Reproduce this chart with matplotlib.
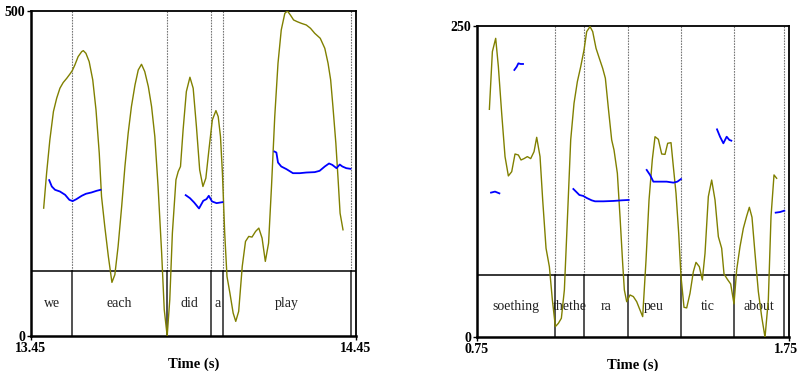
import numpy as np
import matplotlib.pyplot as plt
import matplotlib.transforms as mtransforms

plt.rcParams["font.family"] = ["Liberation Serif", "DejaVu Serif"]

# ---- left panel: "we each did a play" (13.45 - 14.45 s, 0 - 500) ----
left_int_t = [13.489, 13.498, 13.508, 13.519, 13.529, 13.539, 13.549, 13.560, 13.570, 13.577,
              13.585, 13.595, 13.606, 13.611, 13.619, 13.629, 13.640, 13.650, 13.660, 13.667,
              13.677, 13.688, 13.699, 13.708, 13.718, 13.729, 13.739, 13.749, 13.759, 13.770,
              13.780, 13.790, 13.800, 13.811, 13.821, 13.831, 13.841, 13.852, 13.860, 13.869,
              13.877, 13.885, 13.896, 13.903, 13.910, 13.918, 13.928, 13.939, 13.949, 13.959,
              13.969, 13.979, 13.988, 13.998, 14.008, 14.019, 14.026, 14.033, 14.039, 14.046,
              14.053, 14.062, 14.072, 14.080, 14.089, 14.100, 14.110, 14.120, 14.130, 14.141,
              14.151, 14.161, 14.171, 14.181, 14.190, 14.200, 14.210, 14.220, 14.231, 14.239,
              14.248, 14.258, 14.269, 14.282, 14.297, 14.310, 14.323, 14.340, 14.354, 14.364,
              14.372, 14.379, 14.388, 14.395, 14.401, 14.410]
left_int_v = [196.7, 250.5, 301.7, 345.3, 365.8, 381.2, 389.9, 396.5, 403.2, 408.3,
              417.0, 429.8, 437.5, 439.0, 434.9, 422.1, 394.0, 347.9, 281.3, 214.7,
              168.5, 122.4, 82.5, 94.3, 137.8, 199.3, 260.8, 312.0, 353.0, 386.3,
              409.3, 418.0, 406.8, 383.7, 353.0, 306.9, 230.0, 127.6, 40.5, 0.0,
              55.8, 158.3, 240.3, 253.1, 260.8, 317.1, 376.0, 398.1, 381.2, 322.2,
              255.6, 230.0, 242.8, 288.9, 332.5, 346.8, 337.6, 306.9, 250.5, 158.3,
              91.7, 66.1, 35.3, 22.5, 37.9, 107.1, 145.5, 153.2, 152.2, 160.9,
              166.0, 150.6, 114.8, 142.9, 230.0, 337.6, 419.6, 470.8, 496.4, 500.0,
              493.9, 486.2, 483.6, 481.0, 478.5, 473.4, 465.7, 458.0, 442.6, 419.6,
              394.0, 353.0, 296.6, 240.3, 189.0, 163.4]

left_pitch = [
    ([13.506, 13.514, 13.524, 13.539, 13.555, 13.568, 13.578, 13.590, 13.606, 13.619, 13.636, 13.652, 13.664],
     [239.8, 230.0, 224.9, 222.3, 217.2, 209.5, 207.5, 210.6, 215.7, 218.8, 220.8, 223.4, 224.9]),
    ([13.926, 13.939, 13.952, 13.967, 13.980, 13.990, 13.997, 14.007, 14.021, 14.039],
     [216.7, 212.1, 205.4, 196.2, 208.0, 210.6, 215.7, 207.0, 204.4, 205.9]),
    ([14.199, 14.205, 14.210, 14.220, 14.236, 14.256, 14.277, 14.297, 14.323, 14.338,
      14.354, 14.367, 14.377, 14.390, 14.400, 14.408, 14.420, 14.433],
     [283.8, 282.3, 266.9, 260.8, 256.7, 250.5, 250.5, 251.5, 252.1, 254.1,
      260.8, 265.4, 263.3, 258.2, 263.8, 260.8, 258.2, 257.2]),
]
left_bounds = [13.577, 13.869, 14.005, 14.042, 14.435]
left_words = ["we", "each", "did", "a", "play", ""]

# ---- right panel: "soething thethe ra peu tic about" (0.75 - 1.75 s, 0 - 250) ----
right_int_t = [0.7906, 0.8002, 0.8108, 0.8194, 0.8300, 0.8407, 0.8514, 0.8621, 0.8727, 0.8834,
               0.8919, 0.9015, 0.9122, 0.9229, 0.9336, 0.9421, 0.9528, 0.9613, 0.9720, 0.9827,
               0.9923, 1.0019, 1.0115, 1.0211, 1.0307, 1.0403, 1.0510, 1.0616, 1.0723, 1.0830,
               1.0936, 1.1022, 1.1129, 1.1214, 1.1321, 1.1427, 1.1534, 1.1620, 1.1716, 1.1822,
               1.1897, 1.2004, 1.2089, 1.2174, 1.2228, 1.2303, 1.2409, 1.2516, 1.2623, 1.2729,
               1.2815, 1.2922, 1.3018, 1.3124, 1.3210, 1.3316, 1.3423, 1.3530, 1.3615, 1.3722,
               1.3797, 1.3882, 1.3968, 1.4042, 1.4138, 1.4224, 1.4330, 1.4437, 1.4522, 1.4629,
               1.4725, 1.4811, 1.4917, 1.5024, 1.5131, 1.5238, 1.5344, 1.5419, 1.5526, 1.5633,
               1.5739, 1.5824, 1.5931, 1.6038, 1.6145, 1.6230, 1.6315, 1.6411, 1.6518, 1.6625,
               1.6732, 1.6838, 1.6924, 1.7020, 1.7105]
right_int_v = [183.1, 229.4, 240.1, 217.3, 179.9, 145.1, 129.6, 133.0, 147.2, 146.4,
               142.4, 143.5, 145.1, 143.5, 149.1, 160.6, 145.1, 110.3, 71.5, 56.7,
               30.0, 8.6, 11.2, 15.3, 38.0, 94.2, 158.5, 187.9, 205.3, 217.3,
               230.7, 245.5, 249.5, 245.5, 232.1, 224.0, 216.0, 208.0, 183.9, 158.5,
               150.4, 131.7, 96.9, 59.4, 38.0, 28.6, 34.0, 32.7, 28.6, 21.9,
               16.6, 62.1, 110.3, 142.9, 161.1, 159.0, 147.2, 146.9, 155.8, 156.3,
               137.0, 115.6, 83.5, 48.7, 24.1, 23.6, 35.3, 52.7, 60.2, 56.7,
               46.0, 67.5, 113.0, 126.3, 110.3, 80.8, 71.5, 50.9, 46.6, 42.8,
               26.8, 54.1, 72.8, 87.5, 97.4, 104.4, 96.4, 67.5, 36.7, 16.6,
               0.0, 30.0, 96.9, 130.4, 127.7]

right_pitch = [
    ([0.7959, 0.8087, 0.8226], [116.2, 117.0, 115.6]),
    ([0.8706, 0.8781, 0.8834, 0.8909, 0.8983], [214.7, 217.3, 220.0, 219.5, 219.5]),
    ([1.0595, 1.0680, 1.0787, 1.0915, 1.1022, 1.1182, 1.1289, 1.1555, 1.1876, 1.2142, 1.2367],
     [119.1, 117.0, 114.3, 113.5, 111.9, 110.0, 109.2, 109.2, 109.5, 110.0, 110.3]),
    ([1.2943, 1.3050, 1.3156, 1.3316, 1.3583, 1.3797, 1.3925, 1.4042],
     [134.4, 130.4, 125.0, 125.0, 125.0, 124.2, 125.0, 127.1]),
    ([1.5195, 1.5291, 1.5398, 1.5504, 1.5590, 1.5654], [167.0, 161.1, 155.8, 161.1, 158.5, 157.9]),
    ([1.7073, 1.7212, 1.7350], [100.1, 100.6, 101.7]),
]
right_bounds = [1.002, 1.094, 1.233, 1.404, 1.574, 1.735]
right_words = ["soething", "thethe", "ra", "peu", "tic", "about", ""]


def draw_panel(ax, xmin, xmax, ymax, int_t, int_v, pitch, bounds, words):
    tier = ymax * 0.2
    ax.set_xlim(xmin, xmax)
    ax.set_ylim(0, ymax)

    # boundaries: dotted above the tier, solid inside it
    for b in bounds:
        ax.plot([b, b], [tier, ymax], color="#777777", lw=0.8, ls=(0, (1.5, 1.0)), zorder=1)
        ax.plot([b, b], [0, tier], color="#222222", lw=1.1, zorder=1)
    ax.axhline(tier, color="black", lw=1.1, zorder=1)

    edges = [xmin] + bounds + [xmax]
    for i, w in enumerate(words):
        if w:
            ax.text((edges[i] + edges[i + 1]) / 2, tier / 2, w, ha="center", va="center",
                    fontsize=10, color="#222222", zorder=2)

    ax.plot(int_t, int_v, color="#808000", lw=1.0, zorder=3)
    for t, v in pitch:
        ax.plot(t, v, color="#0000ff", lw=1.3, zorder=4)

    ax.set_xticks([xmin, xmax])
    ax.set_xticklabels([f"{xmin:.2f}", f"{xmax:.2f}"], fontweight="bold", fontsize=10)
    ax.set_yticks([0, ymax])
    ax.set_yticklabels(["0", str(ymax)], fontweight="bold", fontsize=10)
    ax.tick_params(length=3, width=1, pad=1)
    ax.set_xlabel("Time (s)", fontweight="bold", fontsize=10.5, labelpad=2)
    for s in ["left", "bottom"]:
        ax.spines[s].set_linewidth(1.8)
    for s in ["top", "right"]:
        ax.spines[s].set_linewidth(1.3)


fig = plt.figure(figsize=(7.99, 3.71), dpi=100)
ax1 = fig.add_axes([31 / 799, 35 / 371, 325 / 799, 325 / 371])
ax2 = fig.add_axes([476.7 / 799, 33.7 / 371, 312.3 / 799, 311.3 / 371])

draw_panel(ax1, 13.45, 14.45, 500, left_int_t, left_int_v, left_pitch, left_bounds, left_words)
draw_panel(ax2, 0.75, 1.75, 250, right_int_t, right_int_v, right_pitch, right_bounds, right_words)

# keep the last tick label inside the picture
last = ax2.get_xticklabels()[-1]
last.set_transform(last.get_transform() + mtransforms.ScaledTranslation(-3 / 100, 0, fig.dpi_scale_trans))

fig.savefig("out.png", dpi=100)
